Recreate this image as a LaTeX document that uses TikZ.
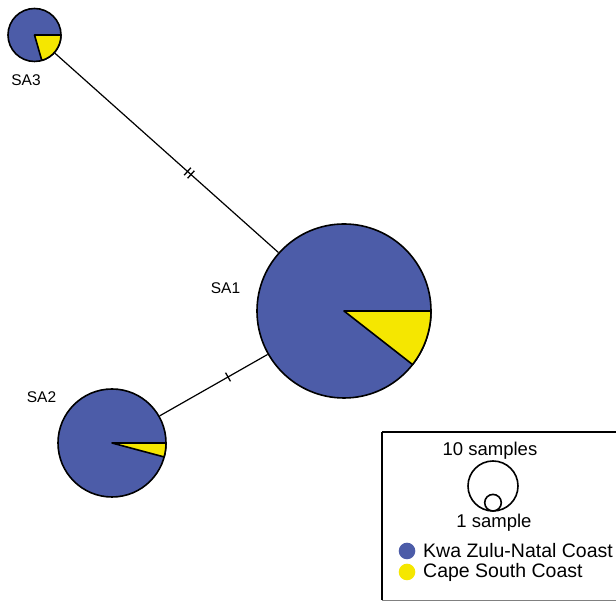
\documentclass[tikz,border=0pt]{standalone}
\usepackage{fontspec}
\setmainfont{Liberation Sans}
\usetikzlibrary{calc}
\definecolor{kzn}{RGB}{76,92,168}
\definecolor{csc}{RGB}{245,231,0}
\tikzset{
    pie/.style={circle, draw, fill=kzn, line width=1.6pt, inner sep=0pt},
    wedge/.style={fill=csc, draw, line width=1.6pt, line join=round},
    link/.style={line width=1.2pt},
    label/.style={font=\fontsize{15.5}{18}\selectfont},
    legtext/.style={font=\fontsize{18.5}{21}\selectfont},
    dot/.style={circle, fill=#1, inner sep=0pt, minimum size=16.6pt},
    hashone/.pic={\draw[line width=1.3pt] (0,-5pt) -- (0,5pt);},
    hashtwo/.pic={\draw[line width=1.3pt] (-2.3pt,-5pt) -- (-2.3pt,5pt) (2.3pt,-5pt) -- (2.3pt,5pt);}
}
\begin{document}
\begin{tikzpicture}[x=1pt, y=1pt]
    \useasboundingbox (0,0) rectangle (616,601);
    %Haplotypes
    \node[pie, minimum size=174pt] (sa1) at (344,290) {};
    \node[pie, minimum size=108pt] (sa2) at (112,158) {};
    \node[pie, minimum size=53pt] (sa3) at (34.5,566) {};
    \filldraw[wedge] (sa1.center) -- ++(-38:87) arc (-38:0:87) -- cycle;
    \filldraw[wedge] (sa2.center) -- ++(-15:54) arc (-15:0:54) -- cycle;
    \filldraw[wedge] (sa3.center) -- ++(-74:26.5) arc (-74:0:26.5) -- cycle;
    %Labels
    \node[label] (lab1) at (225.5,313) {SA1};
    \node[label] (lab2) at (41.5,203.5) {SA2};
    \node[label] (lab3) at (26,520.5) {SA3};
    %Links with mutation steps
    \draw[link] (sa3) -- (sa1);
    \draw[link] (sa2) -- (sa1);
    \path (sa3.center) -- pic[pos=0.5, sloped] {hashtwo} (sa1.center);
    \path (sa2.center) -- pic[pos=0.5, sloped] {hashone} (sa1.center);
    %Legend
    \draw[line width=1.6pt] (382,169) -- (382,0.5) (382,169) -- (620,169);
    \draw[gray, line width=0.8pt] (382,0.5) -- (620,0.5);
    \node[circle, draw, line width=1.6pt, minimum size=50pt, inner sep=0pt] (ten) at (493,115) {};
    \node[circle, draw, line width=1.6pt, minimum size=16.6pt, inner sep=0pt, anchor=south] (one) at (ten.south) {};
    \node[legtext] (tenlab) at (490,150) {10 samples};
    \node[legtext] (onelab) at (494,78) {1 sample};
    \node[dot=kzn] (d1) at (407,50) {};
    \node[dot=csc] (d2) at (407,29) {};
    \node[legtext, font=\fontsize{19.5}{22}\selectfont, anchor=west, inner sep=0pt] (t1) at (423,50) {Kwa Zulu-Natal Coast};
    \node[legtext, font=\fontsize{19.5}{22}\selectfont, anchor=west, inner sep=0pt] (t2) at (423,29) {Cape South Coast};
\end{tikzpicture}
\end{document}
